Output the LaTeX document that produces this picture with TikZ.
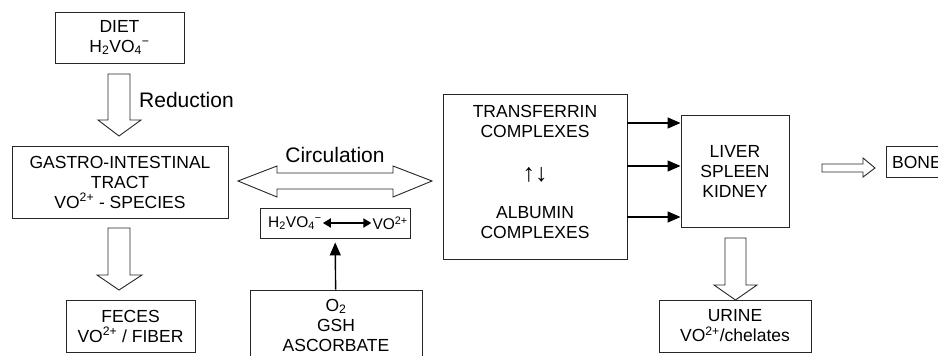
\documentclass[tikz,border=0pt]{standalone}
\usepackage{fontspec}
\setmainfont{Liberation Sans}
\usetikzlibrary{arrows.meta}
\newcommand\hvo{H\textsubscript{2}VO\textsubscript{4}\textsuperscript{−}}
\newcommand\vot{VO\textsuperscript{2+}}
\tikzset{
  box/.style={draw=black!85, line width=0.9pt, align=center, inner sep=0pt,
    font=\fontsize{17.5}{20}\selectfont},
  txt/.style={align=center, inner sep=0pt, font=\fontsize{17.5}{20}\selectfont},
  small/.style={inner sep=0pt, font=\fontsize{15.5}{18}\selectfont},
  lbl/.style={inner sep=0pt, font=\fontsize{21}{24}\selectfont},
  blk/.style={draw=black!85, line width=0.9pt, fill=white, line join=miter},
  conn/.style={draw=black, line width=1.4pt, -{Triangle[length=13pt,width=11pt]}}
}
\begin{document}
\begin{tikzpicture}[x=1pt,y=-1pt]
\useasboundingbox (0,0) rectangle (938,356);
\clip (0,0) rectangle (938,356);
% boxes
\node[box, minimum width=129, minimum height=51] (diet) at (119.5,37.5) {DIET\\\hvo};
\node[box, minimum width=216, minimum height=72] (gi) at (120,182) {GASTRO-INTESTINAL\\TRACT\\\vot{} - SPECIES};
\node[box, minimum width=129, minimum height=52] (feces) at (130.5,326) {FECES\\\vot{} / FIBER};
\node[box, minimum width=150, minimum height=30] (hv) at (335,223) {};
\node[small, anchor=west] (hvl) at (268,223) {\hvo};
\node[small, anchor=east] (hvr) at (408,223) {\vot};
\node[box, minimum width=172, minimum height=76] (o2) at (336,328) {};
\node[txt] (o2t) at (336,325) {O\textsubscript{2}\\GSH\\ASCORBATE};
\node[box, minimum width=184, minimum height=165] (trans) at (535,176.5) {};
\node[txt] (tr) at (535,121.5) {TRANSFERRIN\\COMPLEXES};
\node[txt, font=\fontsize{25}{28}\selectfont] (ud) at (535,175) {↑↓};
\node[txt] (al) at (535,223) {ALBUMIN\\COMPLEXES};
\node[box, minimum width=108, minimum height=112] (liver) at (735,171) {LIVER\\SPLEEN\\KIDNEY};
\node[box, minimum width=80, minimum height=31] (bone) at (926,161.5) {};
\node[txt, anchor=west] (bonet) at (892,162) {BONE};
\node[box, minimum width=152, minimum height=52] (urine) at (735,326) {URINE\\\vot/chelates};
% labels
\node[lbl, anchor=west] (red) at (139,100) {Reduction};
\node[lbl] (circ) at (335,155) {Circulation};
% block arrows
\draw[blk] (108,74) -- (130,74) -- (130,120) -- (141,120) -- (119,136) -- (98,120) -- (108,120) -- cycle;
\draw[blk] (108,228) -- (130,228) -- (130,275) -- (142,275) -- (119,290) -- (97,275) -- (108,275) -- cycle;
\draw[blk] (725,238) -- (746,238) -- (746,285) -- (757,285) -- (735.5,300) -- (714,285) -- (725,285) -- cycle;
\draw[blk] (238,181) -- (277,166) -- (277,173) -- (393,173) -- (393,166) -- (432,181) -- (393,197) -- (393,189) -- (277,189) -- (277,197) -- cycle;
\draw[blk] (822,164) -- (863,164) -- (863,158) -- (875,168) -- (863,177) -- (863,172) -- (822,172) -- cycle;
% connectors
\draw[line width=2.8pt, {Triangle[length=8pt,width=9pt]}-{Triangle[length=8pt,width=9pt]}, shorten <=1pt, shorten >=1pt] (hvl) -- (hvr);
\draw[conn, shorten >=4pt] (o2) -- (hv);
\coordinate (y1) at (0,123);
\coordinate (y2) at (0,166);
\coordinate (y3) at (0,217);
\draw[conn] (trans.east |- y1) -- (liver.west |- y1);
\draw[conn] (trans.east |- y2) -- (liver.west |- y2);
\draw[conn] (trans.east |- y3) -- (liver.west |- y3);
\end{tikzpicture}
\end{document}
